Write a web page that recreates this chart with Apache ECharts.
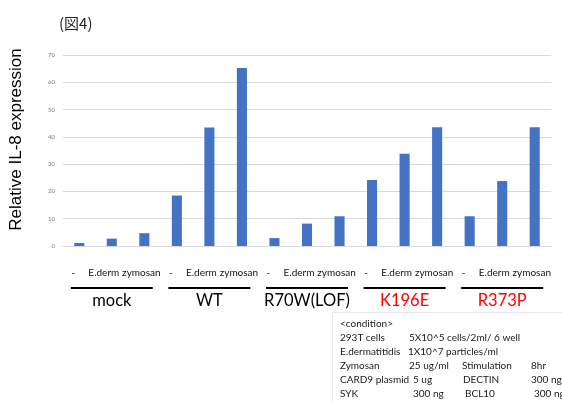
<!DOCTYPE html>
<html><head><meta charset="utf-8">
<script src="https://cdn.jsdelivr.net/npm/echarts@6/dist/echarts.min.js"></script>
<style>html,body{margin:0;padding:0;background:#fff}#c{width:562px;height:401px}</style>
</head><body><div id="c"></div>
<script>
const categories = ['-','E.derm','zymosan','-','E.derm','zymosan','-','E.derm','zymosan','-','E.derm','zymosan','-','E.derm','zymosan'];
const values = [1.1, 2.7, 4.7, 18.5, 43.4, 65.2, 2.9, 8.2, 10.9, 24.2, 33.8, 43.5, 10.9, 23.8, 43.5];
const groups = ['mock','WT','R70W(LOF)','K196E','R373P'];
const redGroups = ['K196E','R373P'];
const yTicks = [0,10,20,30,40,50,60,70];
const conditionLines = [
  ['<condition>','','',''],
  ['293T cells','5X10^5 cells/2ml/ 6 well','',''],
  ['E.dermatitidis','1X10^7 particles/ml','',''],
  ['Zymosan','25 ug/ml','Stimulation','8hr'],
  ['CARD9 plasmid','5 ug','DECTIN','300 ng'],
  ['SYK','300 ng','BCL10','300 ng']
];
const chart = echarts.init(document.getElementById('c'));
const F = 'Lato, "Open Sans", sans-serif';
const colX = [[340,409,462,531],[340,409,462,531],[340,408,462,531],[340,409,462,531],[340,413,463,531],[340,413,465,534]];
const condGraphics = [{type:'rect', shape:{x:332.5,y:312.5,width:240,height:100}, style:{fill:'#fff',stroke:'#e6e6e6',lineWidth:1}}];
conditionLines.forEach((row,i)=>{row.forEach((t,j)=>{ if(t) condGraphics.push({type:'text', x:colX[i][j], y:324+i*14, style:{text:t, fill:'#1a1a1a', font:'10px '+F, verticalAlign:'middle'}});});});
const labStyle = {fontSize:10, color:'#111', fontFamily:F};
chart.setOption({
  animation:false,
  title:{text:'(図4)', left:54, top:11, textStyle:{fontFamily:'"Noto Sans CJK JP", sans-serif', fontSize:15, fontWeight:'normal', color:'#222'}},
  grid:{left:63, right:11, top:55, bottom:155},
  xAxis:[{
    type:'category', data:categories, position:'bottom',
    axisLine:{lineStyle:{color:'#d9d9d9'}}, axisTick:{show:false},
    axisLabel:{interval:0, margin:22,
      formatter:(v)=> v==='-' ? '{a|'+v+'}' : (v==='E.derm' ? '{b|'+v+'}' : '{c|'+v+'}'),
      rich:{
        a:Object.assign({padding:[0,12,0,0]}, labStyle),
        b:Object.assign({padding:[0,16,0,0]}, labStyle),
        c:Object.assign({padding:[0,6,0,0]}, labStyle)
      }}
  },{
    type:'category', data:groups, position:'bottom', gridIndex:0,
    axisLine:{show:false}, axisTick:{show:false},
    axisLabel:{interval:0, margin:40,
      formatter:(v)=> '{u|}\n' + (redGroups.includes(v) ? '{r|'+v+'}' : '{g|'+v+'}'),
      rich:{
        u:{width:82, height:2, backgroundColor:'#000', lineHeight:4},
        g:{fontSize:16.5, lineHeight:22, color:'#000', fontFamily:F},
        r:{fontSize:16.5, lineHeight:22, color:'#ff0000', fontFamily:F}
      }}
  }],
  yAxis:{type:'value', min:yTicks[0], max:yTicks[yTicks.length-1], interval:10,
    name:'Relative IL-8 expression', nameLocation:'middle', nameGap:38,
    nameTextStyle:{fontSize:17, color:'#000', fontFamily:'"Liberation Sans", Arial, sans-serif', padding:[0,0,0,22]},
    axisLabel:{fontSize:6, color:'#777', margin:8, fontFamily:F},
    splitLine:{lineStyle:{color:'#d9d9d9'}}, axisLine:{show:false}, axisTick:{show:false}},
  series:[{type:'bar', data:values, xAxisIndex:0, barWidth:'31%', itemStyle:{color:'#4472c4'}}],
  graphic: condGraphics
});
</script></body></html>
